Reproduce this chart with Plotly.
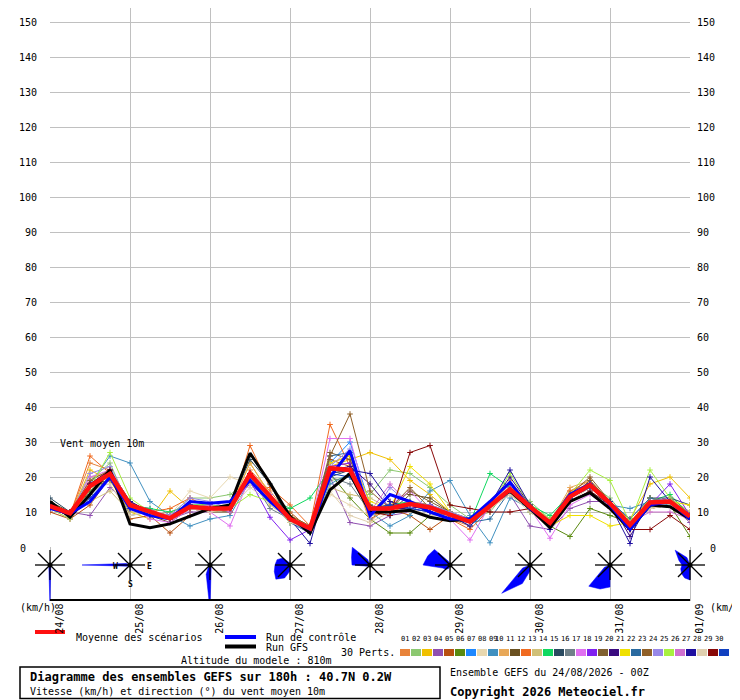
import math
import plotly.graph_objs as go

# pas de 6h, de 24/08 00Z a 01/09 00Z
hours = list(range(0, 193, 6))
day_hours = list(range(0, 193, 24))
day_labels = ['24/08', '25/08', '26/08', '27/08', '28/08', '29/08', '30/08', '31/08', '01/09']

mean_speed = [11.7, 9.6, 17.4, 20.9, 12, 10.1, 8.2, 11.5, 11, 11, 20.9, 14.4, 8, 5.3, 22.5, 22, 11,
              11, 12.3, 11.3, 9.1, 7.2, 11.7, 16.5, 11.5, 6.9, 14.4, 17.7, 12.5, 6.3, 12.7, 13, 8.7]
control_speed = [11, 9.5, 13, 20, 11, 9, 8, 13, 12.5, 13, 19, 13, 8, 5, 20, 27.5, 9,
                 15, 13, 10, 8, 8, 13, 18.5, 11, 7, 15, 18, 12, 5, 12, 13, 8]
gfs_speed = [13, 8.5, 15, 22, 6.6, 5.5, 6.6, 8.7, 11, 12, 26.8, 18.3, 8.7, 4, 16.3, 21, 10,
             10, 10.5, 8.5, 7.5, 8, 12, 16, 11, 5.5, 13, 15.5, 11, 5, 12, 11.5, 8]

members = [
    [12, 9, 24, 22, 13, 9, 10, 12, 11, 10, 22, 16, 9, 6, 24, 26, 9, 10, 13, 12, 8, 6, 12, 18, 12, 7, 16, 19, 13, 6, 13, 14, 9],
    [11, 10, 19, 24, 11, 10, 9, 14, 14, 15, 19, 13, 7, 5, 19, 20, 15, 22, 21, 17, 12, 8, 10, 17, 13, 8, 15, 18, 14, 7, 12, 13, 10],
    [12, 9, 22, 19, 10, 8, 16, 11, 10, 11, 24, 15, 8, 6, 23, 25, 27, 25, 19, 15, 10, 7, 12, 16, 11, 6, 15, 18, 12, 8, 18, 20, 14],
    [11, 10, 9, 17, 12, 11, 8, 10, 10, 12, 18, 13, 7, 4, 20, 7, 6, 9, 10, 12, 10, 8, 12, 15, 6, 5, 11, 13, 13, 8, 14, 12, 7],
    [10, 8, 12, 20, 8, 9, 4, 9, 11, 10, 21, 14, 10, 5, 25, 23, 8, 11, 9, 5, 9, 7, 11, 16, 11, 7, 14, 19, 12, 6, 11, 12, 8],
    [12, 9, 16, 21, 13, 10, 9, 11, 10, 11, 20, 13, 8, 6, 21, 14, 8, 4, 4, 9, 10, 7, 12, 17, 10, 6, 3, 11, 9, 7, 11, 12, 3],
    [11, 10, 18, 22, 12, 9, 8, 12, 12, 11, 20, 14, 7, 5, 24, 30, 12, 9, 12, 10, 9, 6, 11, 16, 12, 7, 14, 17, 13, 6, 13, 14, 9],
    [12, 9, 17, 20, 11, 10, 9, 16, 14, 20, 18, 14, 9, 6, 15, 12, 9, 11, 10, 9, 9, 8, 11, 15, 12, 7, 14, 17, 12, 7, 11, 12, 8],
    [11, 9, 18, 26, 24, 13, 9, 6, 8, 9, 19, 13, 7, 4, 18, 21, 10, 6, 9, 16, 19, 9, 1.2, 14, 11, 6, 13, 16, 12, 11, 13, 12, 9],
    [12, 10, 20, 21, 12, 10, 8, 12, 11, 11, 24, 15, 9, 6, 23, 24, 7, 13, 12, 11, 9, 7, 12, 19, 12, 7, 17, 19, 13, 7, 13, 14, 10],
    [13, 10, 18, 19, 12, 9, 7, 11, 10, 10, 20, 14, 8, 5, 21, 22, 12, 10, 15, 14, 10, 7, 12, 16, 11, 6, 14, 18, 12, 5, 12, 13, 8],
    [12, 9, 26, 21, 12, 10, 11, 14, 11, 10, 29, 17, 12, 6, 35, 23, 11, 10, 12, 11, 8, 5, 11, 17, 11, 7, 16, 18, 13, 6, 14, 13, 9],
    [11, 9, 13, 16, 10, 10, 9, 11, 10, 11, 19, 12, 8, 5, 17, 15, 14, 11, 12, 12, 9, 7, 11, 15, 11, 7, 14, 17, 12, 7, 12, 14, 10],
    [12, 10, 17, 21, 12, 11, 10, 12, 12, 11, 21, 14, 11, 14, 22, 22, 10, 12, 13, 11, 10, 7, 21, 17, 12, 9, 15, 18, 13, 7, 13, 15, 9],
    [14, 10, 17, 21, 11, 9, 8, 11, 11, 12, 25, 18, 7, 5, 20, 22, 11, 12, 12, 11, 9, 8, 12, 17, 12, 6, 15, 18, 12, 6, 14, 14, 12],
    [11, 9, 15, 20, 9, 10, 9, 11, 11, 10, 20, 11, 8, 5, 20, 18, 10, 11, 13, 12, 10, 8, 11, 16, 11, 7, 14, 17, 12, 7, 12, 13, 9],
    [11, 8, 20, 22, 12, 8, 7, 11, 10, 6, 20, 15, 8, 5, 31, 31, 10, 12, 16, 10, 8, 2, 12, 17, 11, 2.5, 12, 15, 11, 7, 13, 13, 8],
    [11, 9, 18, 22, 13, 10, 8, 12, 11, 11, 19, 8.5, 2, 5, 23, 24, 10, 10, 11, 12, 9, 7, 11, 17, 12, 7, 15, 18, 13, 5, 12, 18, 9],
    [12, 9, 17, 19, 11, 10, 8, 11, 12, 11, 20, 14, 8, 5, 27, 25, 11, 11, 16, 13, 10, 7, 12, 16, 11, 6, 14, 19, 13, 6, 12, 13, 8],
    [12, 10, 17, 21, 12, 10, 8, 12, 11, 11, 21, 14, 8, 6, 22, 23, 18, 11, 11, 12, 9, 6, 12, 20, 12, 7, 15, 18, 13, 3, 13, 14, 9],
    [12, 9, 18, 20, 12, 9, 8, 11, 11, 11, 20, 14, 8, 5, 24, 26, 13, 11, 23, 18, 10, 7, 12, 16, 11, 6, 9, 9, 6, 7, 14, 13, 12],
    [12, 9, 18, 21, 12, 10, 9, 12, 11, 11, 21, 14, 8, 5, 26, 27, 10, 12, 12, 11, 9, 7, 8, 16, 12, 7, 15, 18, 13, 8, 14, 13, 9],
    [12, 10, 19, 22, 13, 10, 8, 12, 11, 11, 21, 14, 9, 6, 26, 38, 16, 11, 17, 11, 10, 7, 12, 17, 12, 7, 15, 20, 13, 6, 13, 14, 9],
    [12, 9, 21, 23, 12, 10, 9, 14, 13, 11, 21, 15, 8, 6, 23, 28, 8, 17, 12, 12, 10, 8, 12, 17, 11, 8, 14, 17, 12, 7, 13, 14, 9],
    [11, 8, 17, 27, 14, 10, 8, 12, 12, 11, 15, 13, 7, 6, 21, 22, 11, 11, 12, 11, 9, 7, 12, 21, 12, 8, 15, 22, 19, 7, 22, 14, 9],
    [12, 10, 18, 20, 11, 10, 9, 11, 12, 10, 20, 14, 8, 5, 22, 22, 10, 18, 12, 11, 9, 7, 11, 16, 11, 6, 14, 18, 12, 7, 10, 10, 8],
    [12, 9, 18, 21, 13, 10, 8, 12, 11, 11, 21, 14, 8, 1, 21, 22, 21, 13, 11, 10, 8, 7, 12, 22, 12, 5, 14, 18, 12, 1, 20, 13, 9],
    [12, 9, 17, 18, 9, 10, 8, 11, 10, 11, 17, 13, 7, 5, 16, 9, 7, 10, 11, 9, 9, 7, 11, 15, 10, 6, 13, 17, 12, 6, 11, 12, 8],
    [12, 10, 18, 22, 12, 10, 8, 11, 11, 11, 21, 14, 8, 5, 22, 22, 10, 9, 27, 29, 12, 11, 10, 10, 11, 6, 13, 16, 12, 5, 5, 9, 5],
    [11, 9, 14, 20, 11, 9, 8, 12, 11, 11, 20, 14, 8, 5, 21, 20, 11, 12, 11, 10, 8, 7, 12, 16, 11, 7, 14, 17, 13, 6, 12, 13, 9],
]
member_colors = ['#e8833a', '#8cc870', '#f0c000', '#9050b0', '#b85010', '#5a8a10', '#1e88ff', '#e8d8b0',
                 '#4090c0', '#e8a858', '#6a5020', '#f06a20', '#d0c078', '#10d860', '#2a4a60', '#708088',
                 '#e070f0', '#8020f0', '#806030', '#3a0a80', '#f0e000', '#2a6aa0', '#906028', '#9888e8',
                 '#a8f040', '#d070d0', '#2010a0', '#e0d0b0', '#880808', '#1040c0']

# rose des vents : rayon (px) par secteur, N, NNE, NE ... NNW
rose_radii = [
    [0, 0, 0, 0, 0, 0, 0, 2, 40, 3, 0, 0, 0, 0, 0, 0],
    [0, 0, 0, 0, 0, 0, 0, 0, 0, 0, 0, 3, 48, 4, 0, 0],
    [0, 0, 0, 0, 0, 0, 0, 3, 45, 10, 2, 0, 0, 0, 0, 0],
    [0, 0, 0, 0, 0, 0, 0, 0, 6, 14, 20, 17, 15, 14, 10, 3],
    [0, 0, 0, 0, 0, 0, 0, 0, 0, 0, 0, 3, 18, 20, 25, 6],
    [0, 0, 0, 0, 0, 0, 0, 0, 0, 4, 6, 8, 27, 24, 22, 4],
    [0, 0, 0, 0, 0, 0, 0, 0, 6, 20, 40, 8, 0, 0, 0, 0],
    [0, 0, 0, 0, 0, 0, 0, 0, 22, 26, 30, 6, 0, 0, 0, 0],
    [0, 0, 0, 0, 0, 0, 0, 0, 15, 14, 12, 10, 8, 12, 21, 8],
]

# la page html a une marge de 8px : on compte en pixels de la fenetre
OFF = 8
W, H = 740 - OFF, 700 - OFF
MONO = 'DejaVu Sans Mono'
GRID = '#c0c0c0'


def px(x):
    return (x - OFF) / W


def py(y):
    return 1 - (y - OFF) / H


HPX = 0.3  # heures par pixel sur l'axe x2

fig = go.Figure()

for vals, col in zip(members, member_colors):
    fig.add_trace(go.Scatter(x=hours, y=vals, mode='lines+markers',
                             line=dict(color=col, width=1),
                             marker=dict(symbol='cross-thin', size=4, line=dict(color=col, width=1)),
                             showlegend=False, hoverinfo='skip'))

fig.add_trace(go.Scatter(x=hours, y=gfs_speed, mode='lines', line=dict(color='black', width=3),
                         showlegend=False))
fig.add_trace(go.Scatter(x=hours, y=control_speed, mode='lines', line=dict(color='#0000ff', width=3),
                         showlegend=False))
fig.add_trace(go.Scatter(x=hours, y=mean_speed, mode='lines', line=dict(color='#ff1010', width=4.5),
                         showlegend=False))

# roses des vents
for h, radii in zip(day_hours, rose_radii):
    xs, ys = [], []
    for k, r in enumerate(radii):
        a = math.radians(k * 22.5)
        xs.append(h + r * math.sin(a) * HPX)
        ys.append(r * math.cos(a))
    xs.append(xs[0])
    ys.append(ys[0])
    fig.add_trace(go.Scatter(x=xs, y=ys, xaxis='x2', yaxis='y2', mode='lines', fill='toself',
                             fillcolor='#0000ff', line=dict(color='#0000ff', width=0.5),
                             showlegend=False, hoverinfo='skip'))

    sx, sy = [], []
    for k in range(8):
        a = math.radians(k * 45)
        length = 15 if k % 2 == 0 else 17
        sx += [h, h + length * math.sin(a) * HPX, None]
        sy += [0, length * math.cos(a), None]
    fig.add_trace(go.Scatter(x=sx, y=sy, xaxis='x2', yaxis='y2', mode='lines',
                             line=dict(color='black', width=1.3), showlegend=False, hoverinfo='skip'))
    fig.add_trace(go.Scatter(x=[h], y=[0], xaxis='x2', yaxis='y2', mode='markers',
                             marker=dict(color='black', size=5), showlegend=False, hoverinfo='skip'))

annotations = []


def txt(x, y, s, size=10, bold=False, anchor='left', **kw):
    if bold:
        s = '<b>' + s + '</b>'
    annotations.append(dict(x=px(x), y=py(y), xref='paper', yref='paper', text=s, showarrow=False,
                            xanchor=anchor, yanchor='middle', font=dict(family=MONO, size=size, color='black'),
                            **kw))


txt(58, 443, 'Vent moyen 10m')
txt(18, 548, '0')
txt(708, 548, '0')
txt(18, 607, '(km/h)')
txt(708, 607, '(km/h)')

for h, lab in zip(day_hours, day_labels):
    annotations.append(dict(x=h + 2.6, y=py(602), xref='x2', yref='paper', text=lab, showarrow=False,
                            textangle=-90, xanchor='center', yanchor='top',
                            font=dict(family=MONO, size=10, color='black')))

for s, x, y in [('N', 24, 20), ('S', 24, -19), ('E', 29.8, -1), ('W', 19.6, -1)]:
    annotations.append(dict(x=x, y=y, xref='x2', yref='y2', text='<b>' + s + '</b>', showarrow=False,
                            font=dict(family=MONO, size=8, color='black')))

txt(74, 637, 'Moyenne des scénarios')
txt(264, 637, 'Run de contrôle')
txt(264, 647, 'Run GFS')
txt(179, 660, 'Altitude du modele : 810m')
txt(339, 652, '30 Perts.')
txt(28, 677, 'Diagramme des ensembles GEFS sur 180h : 40.7N 0.2W', size=12, bold=True)
txt(28, 691, 'Vitesse (km/h) et direction (°) du vent moyen 10m')
txt(448, 672, 'Ensemble GEFS du 24/08/2026 - 00Z')
txt(448, 692, 'Copyright 2026 Meteociel.fr', size=12, bold=True)

shapes = [
    dict(type='line', xref='x2', yref='y2', x0=0, x1=192, y0=-35, y1=-35, line=dict(color='black', width=2)),
    dict(type='line', xref='paper', yref='paper', x0=px(35), x1=px(65), y0=py(632), y1=py(632),
         line=dict(color='#ff1010', width=4)),
    dict(type='line', xref='paper', yref='paper', x0=px(225), x1=px(256), y0=py(637), y1=py(637),
         line=dict(color='#0000ff', width=4)),
    dict(type='line', xref='paper', yref='paper', x0=px(225), x1=px(256), y0=py(646.5), y1=py(646.5),
         line=dict(color='black', width=4)),
    dict(type='rect', xref='paper', yref='paper', x0=px(20), x1=px(440), y0=py(667), y1=py(698.5),
         line=dict(color='black', width=1.5)),
]

for i, col in enumerate(member_colors):
    x0 = 400 + 11 * i
    shapes.append(dict(type='rect', xref='paper', yref='paper', x0=px(x0), x1=px(x0 + 10),
                       y0=py(649), y1=py(656), fillcolor=col, line=dict(width=0)))
    annotations.append(dict(x=px(x0 + 5), y=py(644), xref='paper', yref='paper', text='%02d' % (i + 1),
                            showarrow=False, borderpad=0,
                            font=dict(family=MONO, size=7, color='black')))

ytop = (547 - OFF) / 3.5
yticks = list(range(0, 151, 10))
ytext = [''] + [str(v) for v in yticks[1:]]

layout = go.Layout(
    width=W, height=H,
    margin=dict(l=0, r=0, t=0, b=0),
    paper_bgcolor='white', plot_bgcolor='white',
    xaxis=dict(domain=[px(50), px(690)], range=[0, 192], anchor='y', tickvals=day_hours,
               showticklabels=False, ticks='', showgrid=True, gridcolor=GRID, gridwidth=1,
               zeroline=False, showline=False),
    yaxis=dict(domain=[py(547), 1], range=[0, ytop], anchor='x', tickvals=yticks, ticktext=ytext,
               ticks='', showgrid=True, gridcolor=GRID, gridwidth=1, zeroline=False,
               ticklabelstandoff=12, tickfont=dict(family=MONO, size=10, color='black')),
    yaxis3=dict(overlaying='y', side='right', anchor='x', range=[0, ytop], tickvals=yticks, ticktext=ytext,
                ticks='', showgrid=False, zeroline=False, ticklabelstandoff=6,
                tickfont=dict(family=MONO, size=10, color='black')),
    xaxis2=dict(domain=[0, 1], range=[(OFF - 50) * HPX, 192 + 50 * HPX], anchor='y2', tickvals=day_hours,
                showticklabels=False, ticks='', showgrid=True, gridcolor=GRID, gridwidth=1,
                zeroline=False, showline=False),
    yaxis2=dict(domain=[py(601), py(547)], range=[-36, 18], anchor='x2', showticklabels=False,
                ticks='', showgrid=False, zeroline=False),
    annotations=annotations,
    shapes=shapes,
    showlegend=False,
)

# trace invisible pour afficher l'axe de droite
fig.add_trace(go.Scatter(x=[0], y=[0], yaxis='y3', mode='markers', marker=dict(opacity=0),
                         showlegend=False, hoverinfo='skip'))

fig.update_layout(layout)
fig.write_html('out.html')
